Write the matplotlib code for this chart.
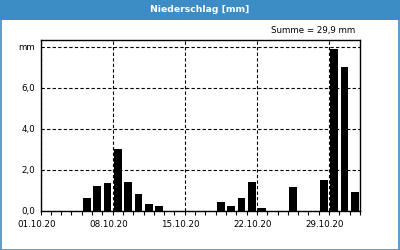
import matplotlib
matplotlib.use("Agg")
import matplotlib.pyplot as plt
import matplotlib.transforms as mtransforms
from matplotlib.patches import Rectangle

# daily precipitation, October 2020 (mm), index 0 = 01.10.20
tage = list(range(31))
niederschlag = [0, 0, 0, 0, 0.6, 1.2, 1.35, 3.0, 1.4, 0.8,
                0.3, 0.2, 0, 0, 0, 0, 0, 0.4, 0.2, 0.6,
                1.4, 0.1, 0, 0, 1.15, 0, 0, 1.5, 7.9, 7.0,
                0.9]
x_ticks = [0, 7, 14, 21, 28]
x_labels = ["01.10.20", "08.10.20", "15.10.20", "22.10.20", "29.10.20"]
y_ticks = [0, 2, 4, 6, 8]
y_labels = ["0,0", "2,0", "4,0", "6,0", "mm"]
summe = "Summe = 29,9 mm"
titel = "Niederschlag [mm]"

blue = "#3c8dc6"

fig = plt.figure(figsize=(4, 2.5), dpi=100)
fig.patch.set_facecolor("white")

# title bar and frame
fig.patches.append(Rectangle((0, 0.92), 1, 0.08, transform=fig.transFigure,
                             facecolor=blue, edgecolor="none", zorder=0))
fig.patches.append(Rectangle((0.5 / 400, 0.5 / 250), 398.5 / 400, 0.95,
                             transform=fig.transFigure, facecolor="none",
                             edgecolor=blue, lw=1.2, zorder=0))
fig.text(0.5, 0.96, titel, color="white", ha="center", va="center",
         fontsize=6.7, fontweight="bold")
fig.text(355 / 400, 1 - 31 / 250, summe, ha="right", va="center", fontsize=6.2)

ax = fig.add_axes([40.5 / 400, 39.5 / 250, 319.5 / 400, 170 / 250])
ax.bar([t + 0.5 for t in tage], niederschlag, width=0.75, color="black", zorder=3)

ax.set_xlim(0, 31)
ax.set_ylim(0, 8.3)
ax.set_xticks(x_ticks)
ax.set_xticklabels(x_labels, fontsize=6.3)
ax.set_xticks(range(32), minor=True)
ax.set_yticks(y_ticks)
ax.set_yticklabels(y_labels, fontsize=6.3)
ax.tick_params(axis="x", which="both", direction="out", length=3, width=0.8, pad=4)
ax.tick_params(axis="y", length=0, pad=4)

shift = mtransforms.ScaledTranslation(-4 / 100, 0, fig.dpi_scale_trans)
for lab in ax.get_xticklabels():
    lab.set_transform(lab.get_transform() + shift)

ax.grid(True, which="major", color="black", linestyle=(0, (3, 2)), lw=0.8)
for s in ax.spines.values():
    s.set_color("black")
    s.set_linewidth(1.0)

fig.savefig("out.png", dpi=100)
